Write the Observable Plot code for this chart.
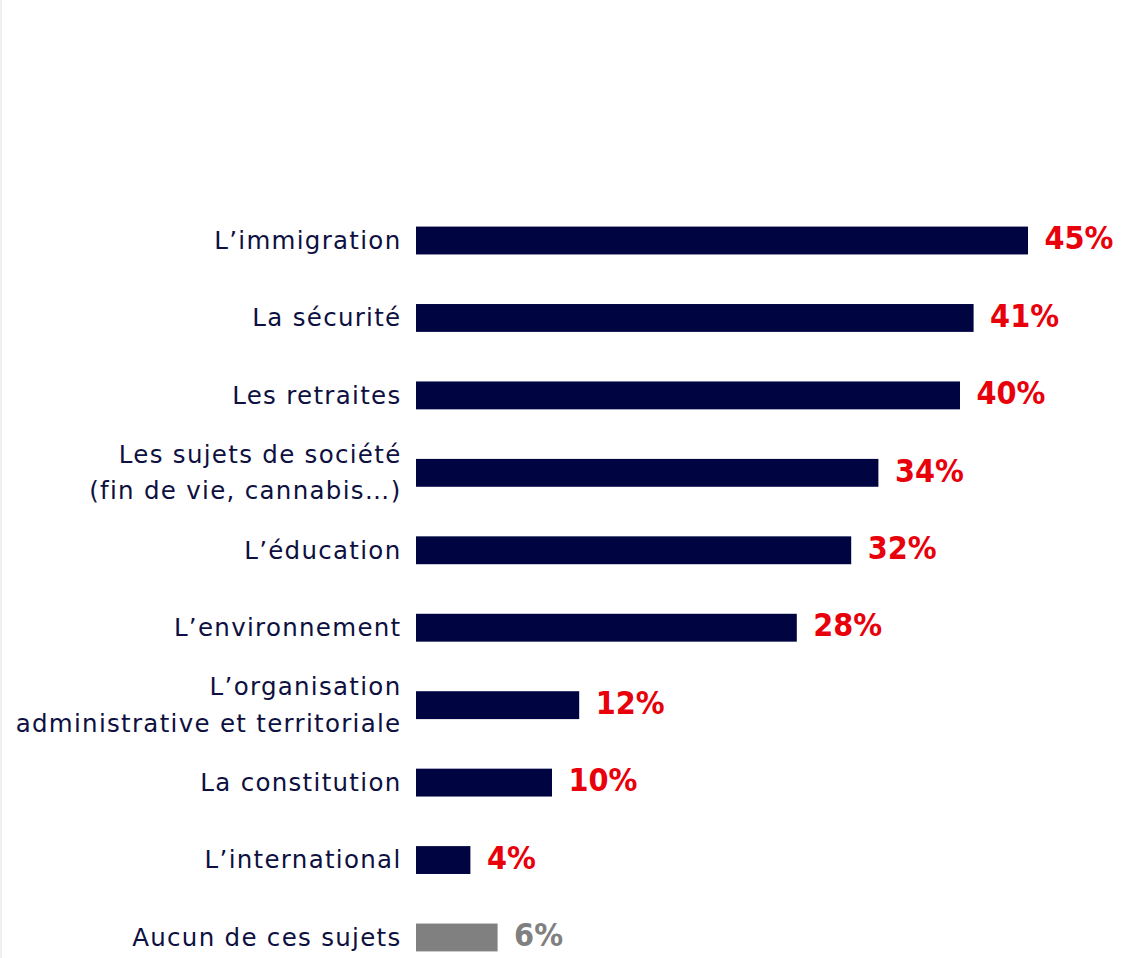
<!DOCTYPE html>
<html>
<head>
<meta charset="utf-8">
<script src="https://cdn.jsdelivr.net/npm/d3@7"></script>
<script src="https://cdn.jsdelivr.net/npm/@observablehq/plot@0.6"></script>
<style>
  html, body { margin: 0; padding: 0; background: #fff; }
  #chart { position: relative; width: 1127px; height: 958px; }
  #chart::before { content: ""; position: absolute; left: 0; top: 0; width: 2px; height: 958px; background: #f0f0f0; }
  svg { display: block; }
</style>
</head>
<body>
<div id="chart"></div>
<script>
const categories = [
  "L’immigration",
  "La sécurité",
  "Les retraites",
  "Les sujets de société\n(fin de vie, cannabis…)",
  "L’éducation",
  "L’environnement",
  "L’organisation\nadministrative et territoriale",
  "La constitution",
  "L’international",
  "Aucun de ces sujets"
];
const values = [45, 41, 40, 34, 32, 28, 12, 10, 4, 6];
const isNone = [false, false, false, false, false, false, false, false, false, true];

const data = categories.map((c, i) => ({ cat: c, v: values[i], none: isNone[i] }));

const navy = "#000542";
const red = "#e8000b";
const gray = "#808080";

const chart = Plot.plot({
  width: 1127,
  height: 958,
  marginLeft: 416,
  marginRight: 99,
  marginTop: 0,
  marginBottom: 0,
  style: { background: "transparent" },
  x: { domain: [0, 45], range: [416, 1028], axis: null },
  y: { domain: categories, range: [201.8, 976.2], round: false, paddingInner: 0.64, paddingOuter: 0.32, axis: null },
  marks: [
    Plot.barX(data, { x: "v", y: "cat", fill: d => d.none ? gray : navy }),
    Plot.text(data, {
      x: 0, y: "cat", text: "cat", textAnchor: "end", dx: -15, dy: -4,
      fontSize: 24.5, lineHeight: 1.5, fill: "#0d1040",
      fontFamily: "'DejaVu Sans', sans-serif"
    }),
    Plot.text(data, {
      x: "v", y: "cat", text: d => d.v + "%", textAnchor: "start", dx: 16, dy: -2,
      fontSize: 32, fontWeight: "bold", fill: d => d.none ? gray : red,
      fontFamily: "'DejaVu Sans Condensed', 'DejaVu Sans', sans-serif"
    })
  ]
});
d3.select(chart).selectAll('g[aria-label="text"]').filter((d, i) => i === 0).attr("letter-spacing", "1.3px");
document.getElementById("chart").appendChild(chart);
</script>
</body>
</html>
